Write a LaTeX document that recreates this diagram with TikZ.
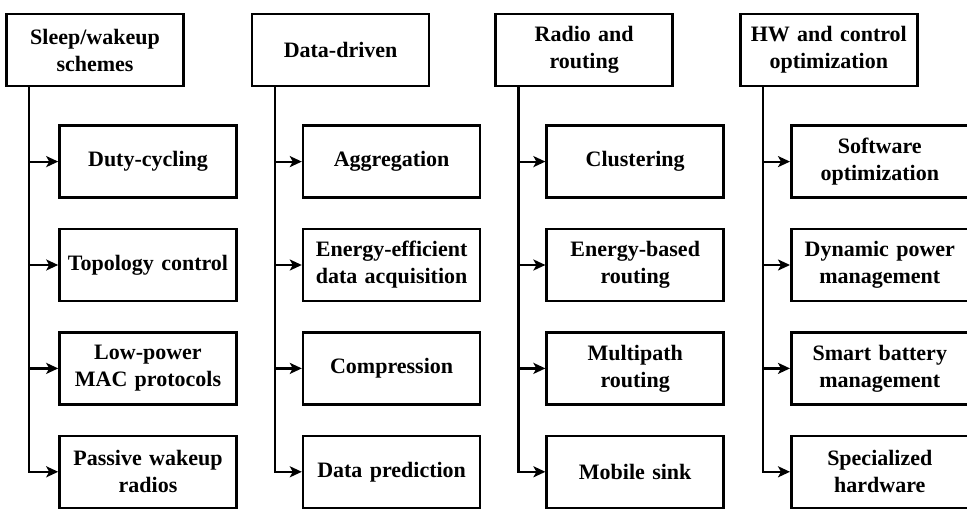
\documentclass[tikz,border=0pt]{standalone}
\usepackage{fontspec}
\setmainfont{Liberation Serif}
\usetikzlibrary{arrows.meta,positioning}
\tikzstyle{cat} = [rectangle, draw, text width=167pt, text centered, inner xsep=5pt,
    minimum height=72pt, line width=2.6pt, font=\bfseries\fontsize{22}{27}\selectfont]
\tikzstyle{sub} = [cat]

\begin{document}
\begin{tikzpicture}[->,>={Stealth[length=12pt,width=11pt,inset=3pt]},line width=2.2pt,
                    node distance=28.8pt]
  \useasboundingbox (0,0) rectangle (967pt,-511pt);
  % top row
  \node[cat] (sw) at (95pt,-50pt) {Sleep/wakeup\\schemes};
  \node[cat] (dd) [right=66pt of sw] {Data-driven};
  \node[cat] (rr) [right=64pt of dd] {Radio and\\routing};
  \node[cat] (hw) [right=65pt of rr] {HW and control\\optimization};

  % sleep/wakeup
  \node[sub] (sw1) [below right=37pt and 53pt of sw.south west] {Duty-cycling};
  \node[sub] (sw2) [below=of sw1] {Topology control};
  \node[sub] (sw3) [below=of sw2] {Low-power\\MAC protocols};
  \node[sub] (sw4) [below=of sw3] {Passive wakeup\\radios};

  % data-driven
  \node[sub] (dd1) [below right=37pt and 51pt of dd.south west] {Aggregation};
  \node[sub] (dd2) [below=of dd1] {Energy-efficient\\data acquisition};
  \node[sub] (dd3) [below=of dd2] {Compression};
  \node[sub] (dd4) [below=of dd3] {Data prediction};

  % radio and routing
  \node[sub] (rr1) [below right=37pt and 51pt of rr.south west] {Clustering};
  \node[sub] (rr2) [below=of rr1] {Energy-based\\routing};
  \node[sub] (rr3) [below=of rr2] {Multipath\\routing};
  \node[sub] (rr4) [below=of rr3] {Mobile sink};

  % hw and control
  \node[sub] (hw1) [below right=37pt and 51pt of hw.south west] {Software\\optimization};
  \node[sub] (hw2) [below=of hw1] {Dynamic power\\management};
  \node[sub] (hw3) [below=of hw2] {Smart battery\\management};
  \node[sub] (hw4) [below=of hw3] {Specialized\\hardware};

  \foreach \c in {sw,dd,rr,hw} {
    \coordinate (\c l) at ([xshift=24pt]\c.south west);
    \draw (\c l) |- (\c4.west);
    \foreach \n in {1,2,3}
      \draw (\c l |- \c\n.west) -- (\c\n.west);
  }
\end{tikzpicture}
\end{document}
